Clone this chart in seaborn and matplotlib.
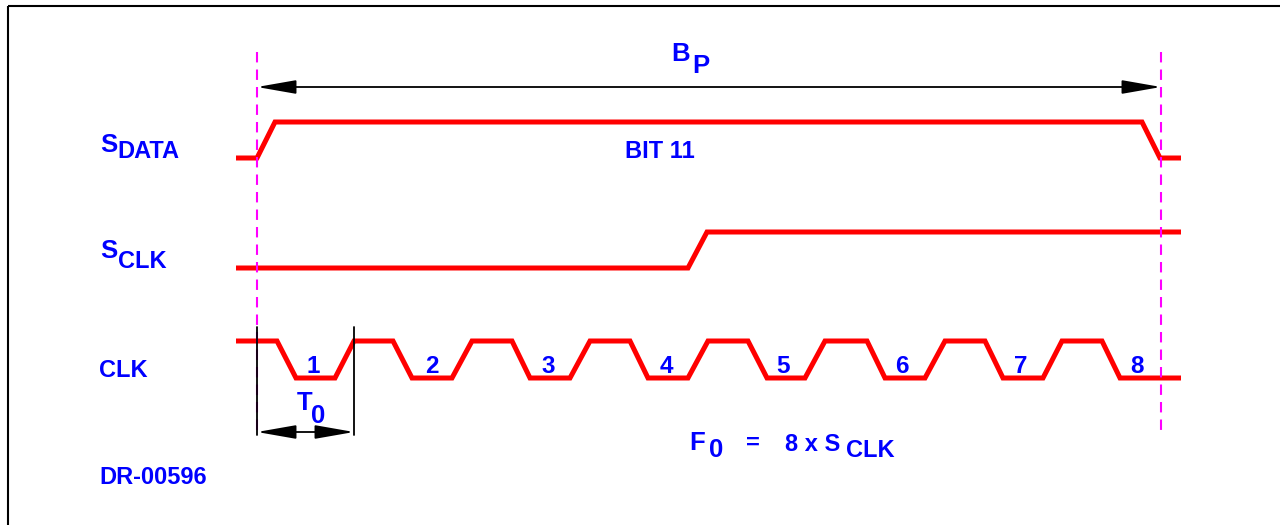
import matplotlib
matplotlib.use("Agg")
import matplotlib.pyplot as plt
import seaborn as sns
import pandas as pd

sns.set_theme(style="white")
plt.rcParams['font.family'] = ['Liberation Sans', 'DejaVu Sans']

# ---- data (time axis in drawing units, levels 0 = low, 1 = high) ----
sdata_t = [236, 257, 275, 1142, 1160, 1181]
sdata_level = [0, 0, 1, 1, 0, 0]

sclk_t = [236, 688, 707, 1181]
sclk_level = [0, 0, 1, 1]

clk_t = [236, 277, 296, 335, 354, 393, 412, 452, 472, 512, 530, 570, 590, 630,
         648, 688, 708, 748, 767, 805, 825, 867, 885, 925, 945, 985, 1003, 1043,
         1062, 1102, 1120, 1181]
clk_level = [1, 1, 0, 0, 1, 1, 0, 0, 1, 1, 0, 0, 1, 1,
             0, 0, 1, 1, 0, 0, 1, 1, 0, 0, 1, 1, 0, 0,
             1, 1, 0, 0]

clk_numbers = ["1", "2", "3", "4", "5", "6", "7", "8"]
clk_number_t = [313, 432, 548, 666, 783, 902, 1021, 1137]

bit_start, bit_end = 257, 1161
t0_start, t0_end = 257, 354

# ---- layout ----
W, H = 1280, 525
fig = plt.figure(figsize=(W / 100, H / 100), dpi=100)
ax = fig.add_axes([0, 0, 1, 1])

RED = "#ff0000"
BLUE = "#0000ff"
MAG = "#ff00ff"

# rows: (low y, high y)
rows = {"sdata": (158, 122), "sclk": (268, 232), "clk": (378, 341)}


def wave(t, lev, row):
    lo, hi = rows[row]
    df = pd.DataFrame({"t": t, "y": [lo + (hi - lo) * v for v in lev]})
    sns.lineplot(data=df, x="t", y="y", sort=False, estimator=None, ax=ax,
                 color=RED, linewidth=3.6, solid_joinstyle="miter",
                 solid_capstyle="butt")


wave(sdata_t, sdata_level, "sdata")
wave(sclk_t, sclk_level, "sclk")
wave(clk_t, clk_level, "clk")
ax.set_xlim(0, W)
ax.set_ylim(H, 0)
ax.axis("off")

# border (partially cropped frame)
ax.plot([8, 8], [6, H], color="black", lw=1.5, solid_capstyle="butt")
ax.plot([8, W], [6, 6], color="black", lw=1.5, solid_capstyle="butt")

# magenta dashed bit boundaries
for x in (bit_start, bit_end):
    ax.plot([x, x], [52, 433], color=MAG, lw=1.5, linestyle=(0, (5.0, 3.4)))

# T0 extension lines
for x in (t0_start, t0_end):
    ax.plot([x, x], [327, 435], color="black", lw=1.3)

arrow_style = "<|-|>,head_length=2.4,head_width=0.42"
ax.annotate("", xy=(bit_start, 87), xytext=(bit_end, 87),
            arrowprops=dict(arrowstyle=arrow_style, color="black", lw=1.3,
                            shrinkA=0, shrinkB=0, mutation_scale=10))
ax.annotate("", xy=(t0_start, 432), xytext=(t0_end, 432),
            arrowprops=dict(arrowstyle=arrow_style, color="black", lw=1.3,
                            shrinkA=0, shrinkB=0, mutation_scale=10))


def txt(x, y, s, size=17, ha="left"):
    ax.text(x, y, s, color=BLUE, fontsize=size, fontweight="bold",
            ha=ha, va="baseline")


txt(100, 152, "S", 18.5)
txt(117, 158, "DATA")
txt(100, 258, "S", 18.5)
txt(118, 268, "CLK")
txt(99, 377, "CLK")
txt(99, 484, "DR-00596")
txt(660, 158, "BIT 11", ha="center")
txt(671, 61, "B", 18.5)
txt(692, 73, "P", 18.5)
txt(297, 410, "T", 18.5)
txt(311, 423, "0", 18.5)
txt(689, 450, "F", 18.5)
txt(709, 457, "0", 18.5)
txt(753, 450, "=", 17, ha="center")
txt(785, 451, "8 x S", 17)
txt(846, 457, "CLK", 17)

for s, t in zip(clk_numbers, clk_number_t):
    txt(t, 373, s, 17.5, ha="center")

fig.savefig("out.png", dpi=100)
